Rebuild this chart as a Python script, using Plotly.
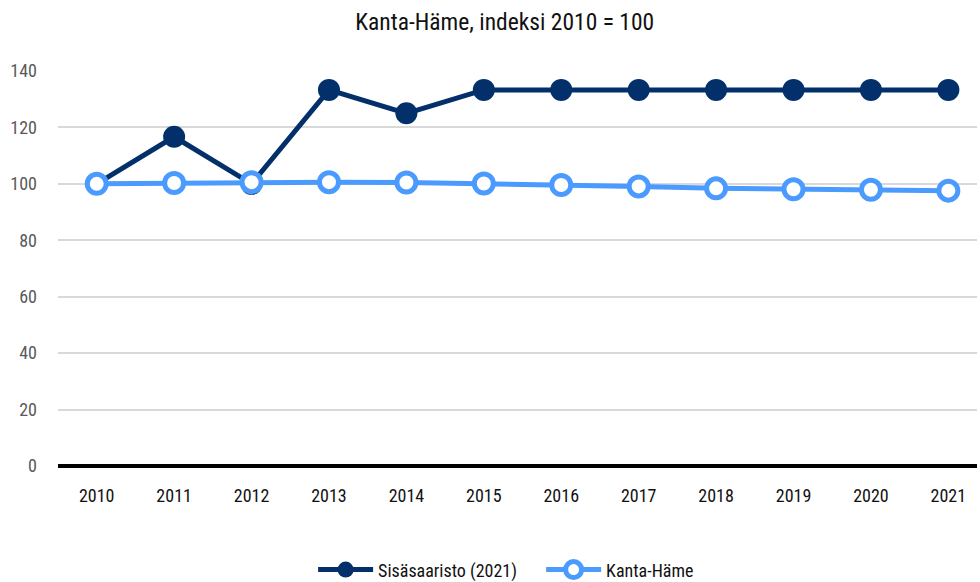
import plotly.graph_objects as go

years = ["2010", "2011", "2012", "2013", "2014", "2015", "2016", "2017", "2018", "2019", "2020", "2021"]
sisasaaristo = [100, 116.7, 100, 133.3, 125.0, 133.3, 133.3, 133.3, 133.3, 133.3, 133.3, 133.3]
kanta_hame = [100, 100.3, 100.6, 100.6, 100.5, 100.1, 99.6, 99.1, 98.4, 98.1, 97.9, 97.6]
y_ticks = [0, 20, 40, 60, 80, 100, 120, 140]

FONT = "Roboto Condensed, Arial Narrow, Roboto, sans-serif"
NAVY = "#03306b"
BLUE = "#4b9bff"

fig = go.Figure()
fig.add_trace(go.Scatter(
    x=years, y=sisasaaristo, name="Sisäsaaristo (2021)", mode="lines+markers",
    line=dict(color=NAVY, width=5),
    marker=dict(color=NAVY, size=22, line=dict(width=0)),
))
fig.add_trace(go.Scatter(
    x=years, y=kanta_hame, name="Kanta-Häme", mode="lines+markers",
    line=dict(color=BLUE, width=5),
    marker=dict(color="white", size=19, line=dict(color=BLUE, width=5)),
))

fig.update_layout(
    width=980, height=582,
    margin=dict(l=58, r=3, t=71, b=116, autoexpand=False),
    paper_bgcolor="white", plot_bgcolor="white",
    font=dict(family=FONT, size=18, color="#222222"),
    title=dict(text="Kanta-Häme, indeksi 2010 = 100", x=0.515, xanchor="center",
               y=0.963, yanchor="middle", font=dict(size=23.5, color="#111111")),
    showlegend=True,
    legend=dict(orientation="h", x=0.2776, xanchor="left", y=-0.263, yanchor="middle",
                font=dict(size=18, color="#111111"), itemwidth=55, entrywidth=158,
                traceorder="normal"),
    xaxis=dict(type="category", categoryorder="array", categoryarray=years,
               range=[-0.5, 11.37], showgrid=False, showline=False, zeroline=False,
               ticks="", tickfont=dict(size=18, color="#111111"), ticklabelstandoff=17,
               automargin=False),
    yaxis=dict(range=[0, 140], tickvals=y_ticks, showgrid=True, gridcolor="#d9d9d9",
               gridwidth=2, zeroline=True, zerolinecolor="#000000", zerolinewidth=4,
               showline=False, ticks="", tickfont=dict(size=18, color="#595959"),
               ticklabelstandoff=20, automargin=False),
)

fig.write_html("out.html", config={"displayModeBar": False},
               post_script="document.body.style.margin='0';document.body.style.overflow='hidden';")
